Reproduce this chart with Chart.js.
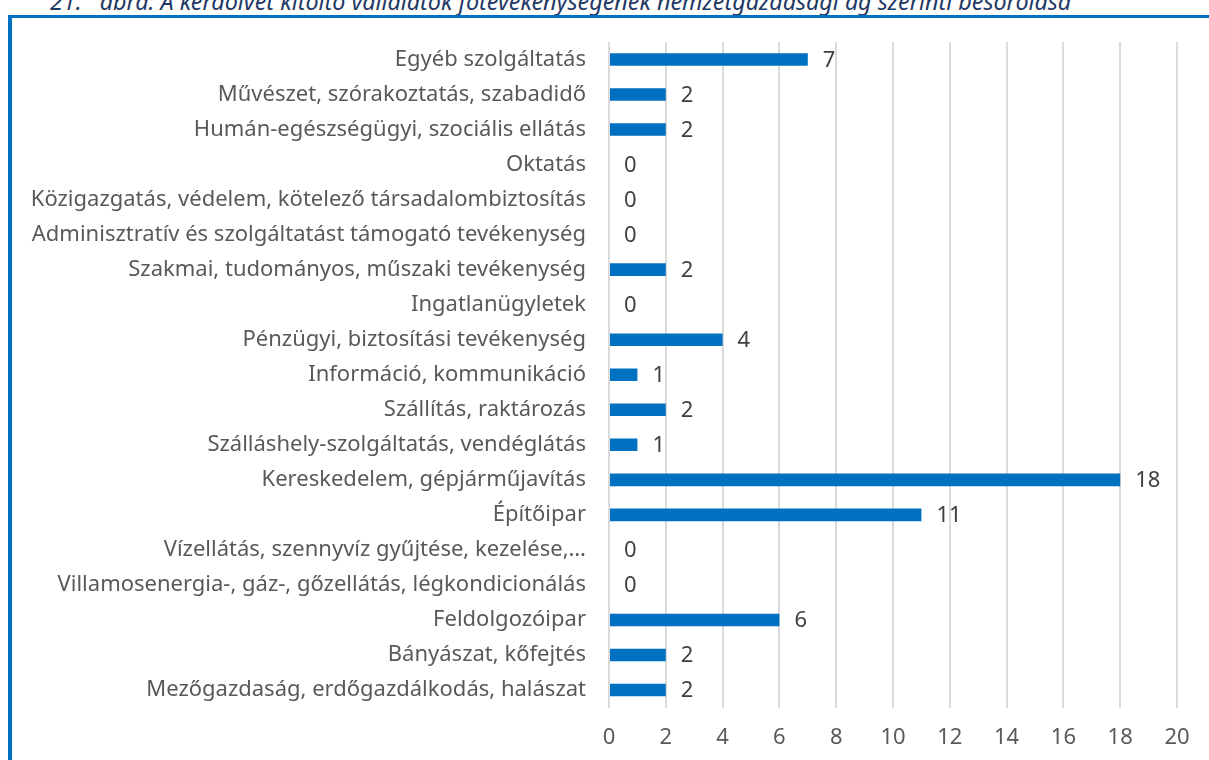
<!DOCTYPE html>
<html>
<head>
<meta charset="utf-8">
<script src="https://cdn.jsdelivr.net/npm/chart.js@4"></script>
<style>
  html, body { margin: 0; padding: 0; background: #fff; overflow: hidden; }
  body { width: 1209px; height: 760px; position: relative; }
  #title {
    position: absolute; left: 50px; top: -10px; line-height: 23px;
    font-family: "Noto Sans", sans-serif; font-style: italic;
    font-size: 23.3px; color: #1f3864; white-space: nowrap;
  }
  #frame {
    position: absolute; left: 8px; top: 15px; width: 1300px; height: 900px;
    border-top: 3px solid #0070c0; border-left: 4px solid #0070c0;
  }
  #wrap { position: absolute; left: 0; top: 0; width: 1209px; height: 760px; }
</style>
</head>
<body>
<div id="title">21.&nbsp;&nbsp; ábra: A kérdőívet kitöltő vállalatok főtevékenységének nemzetgazdasági ág szerinti besorolása</div>
<div id="frame"></div>
<div id="wrap"><canvas id="chart"></canvas></div>
<script>
const categories = [
    "Egyéb szolgáltatás",
    "Művészet, szórakoztatás, szabadidő",
    "Humán-egészségügyi, szociális ellátás",
    "Oktatás",
    "Közigazgatás, védelem, kötelező társadalombiztosítás",
    "Adminisztratív és szolgáltatást támogató tevékenység",
    "Szakmai, tudományos, műszaki tevékenység",
    "Ingatlanügyletek",
    "Pénzügyi, biztosítási tevékenység",
    "Információ, kommunikáció",
    "Szállítás, raktározás",
    "Szálláshely-szolgáltatás, vendéglátás",
    "Kereskedelem, gépjárműjavítás",
    "Építőipar",
    "Vízellátás, szennyvíz gyűjtése, kezelése,…",
    "Villamosenergia-, gáz-, gőzellátás, légkondicionálás",
    "Feldolgozóipar",
    "Bányászat, kőfejtés",
    "Mezőgazdaság, erdőgazdálkodás, halászat"
];
const values = [7, 2, 2, 0, 0, 0, 2, 0, 4, 1, 2, 1, 18, 11, 0, 0, 6, 2, 2];
const xTicks = [0, 2, 4, 6, 8, 10, 12, 14, 16, 18, 20];

const fontFamily = '"Noto Sans", sans-serif';
const fontSize = 22;

// value labels at the end of each bar
const valueLabels = {
    id: 'valueLabels',
    afterDatasetsDraw(chart) {
        const ctx = chart.ctx;
        const meta = chart.getDatasetMeta(0);
        ctx.save();
        ctx.font = fontSize + 'px ' + fontFamily;
        ctx.fillStyle = '#404040';
        ctx.textAlign = 'left';
        ctx.textBaseline = 'middle';
        meta.data.forEach((bar, i) => {
            ctx.fillText(String(values[i]), bar.x + 15, bar.y + 1);
        });
        ctx.restore();
    }
};

const ctx = document.getElementById('chart').getContext('2d');
new Chart(ctx, {
    type: 'bar',
    data: {
        labels: categories,
        datasets: [{
            data: values,
            backgroundColor: '#0070c0',
            borderWidth: 0,
            categoryPercentage: 1,
            barPercentage: 0.36
        }]
    },
    options: {
        indexAxis: 'y',
        responsive: true,
        maintainAspectRatio: false,
        animation: false,
        layout: { padding: { top: 42, right: 32, left: 0, bottom: 0 } },
        plugins: {
            legend: { display: false },
            tooltip: { enabled: false }
        },
        scales: {
            x: {
                min: 0,
                max: 20,
                afterBuildTicks: (scale) => { scale.ticks = xTicks.map(v => ({ value: v })); },
                afterFit: (scale) => { scale.height = 52.5; },
                grid: { color: '#dadada', lineWidth: 2, drawTicks: false },
                border: { display: false },
                ticks: {
                    padding: 17,
                    color: '#595959',
                    font: { family: fontFamily, size: fontSize }
                }
            },
            y: {
                afterFit: (scale) => { scale.width = 609; },
                grid: { display: false, drawTicks: false },
                border: { display: false },
                ticks: {
                    padding: 23,
                    autoSkip: false,
                    color: '#595959',
                    font: { family: fontFamily, size: fontSize }
                }
            }
        }
    },
    plugins: [valueLabels]
});
</script>
</body>
</html>
